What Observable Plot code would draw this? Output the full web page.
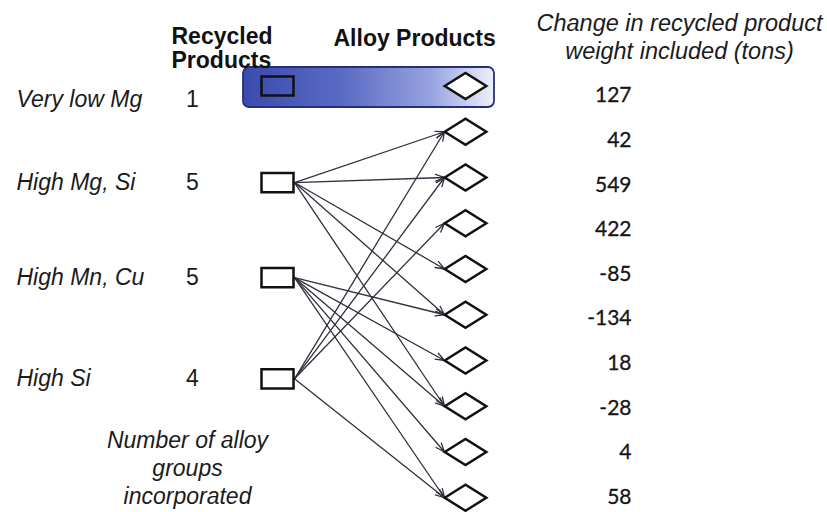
<!DOCTYPE html>
<html><head><meta charset="utf-8">
<script src="https://cdn.jsdelivr.net/npm/d3@7"></script>
<script src="https://cdn.jsdelivr.net/npm/@observablehq/plot@0.6"></script>
<style>html,body{margin:0;padding:0;background:#fff;} #chart{width:827px;height:512px;}</style>
</head><body><div id="chart"></div>
<script>
// ---- data ----
const recycledGroups = ["Very low Mg", "High Mg, Si", "High Mn, Cu", "High Si"];
const alloyGroupCounts = [1, 5, 5, 4];
const alloyProducts = ["A1", "A2", "A3", "A4", "A5", "A6", "A7", "A8", "A9", "A10"];
const weightChange = ["127", "42", "549", "422", "-85", "-134", "18", "-28", "4", "58"];
const groupLinks = [[0], [1, 2, 4, 5, 7], [5, 6, 7, 8, 9], [1, 2, 3, 9]];
const highlightedGroup = 0;
const headerRecycled = "Recycled\nProducts";
const headerAlloy = "Alloy Products";
const headerChange = "Change in recycled product\nweight included (tons)";
const footerNote = "Number of alloy\ngroups\nincorporated";

// ---- layout ----
const W = 827, H = 512;
const FONT = "'Liberation Sans', Arial, sans-serif";
const groupSlot = [0.29, 2.11, 4.19, 6.4];   // vertical slot of each recycled group (in alloy-row units)
const colLabel = 16, colCount = 192, colSquare = 277, colAlloy = 465, colChange = 631;
const arrowStart = 294, arrowEnd = 444;
const barX1 = 243, barX2 = 494;
const valueRowOffset = 0.21, valueRowStep = 0.975; // value column is spaced slightly tighter than diamonds

const groups = recycledGroups.map((name, i) => ({
  name, count: String(alloyGroupCounts[i]), slot: groupSlot[i], links: groupLinks[i],
  inBar: i === highlightedGroup,
  sq: i === highlightedGroup ? groupLinks[i][0] : groupSlot[i]
}));
const alloys = alloyProducts.map((a, i) => ({name: a, row: i, change: weightChange[i]}));
const linkData = groups.filter(g => !g.inBar).flatMap(g => g.links.map(r => ({from: g.slot, to: r})));
const barData = [{row: groupLinks[highlightedGroup][0]}];

const diamondSym = {draw(ctx, size) {
  const r = Math.sqrt(size / Math.PI), w = r * 1.6;
  ctx.moveTo(-w, 0); ctx.lineTo(0, -r); ctx.lineTo(w, 0); ctx.lineTo(0, r); ctx.closePath();
}};
const rectSym = {draw(ctx, size) {
  const r = Math.sqrt(size / Math.PI), h = r * 0.6;
  ctx.rect(-r, -h, 2 * r, 2 * h);
}};

const svg = Plot.plot({
  width: W, height: H,
  marginTop: 0, marginRight: 0, marginBottom: 0, marginLeft: 0,
  x: {type: "linear", domain: [0, W], range: [0, W], axis: null},
  y: {type: "linear", domain: [0, 9], range: [85.5, 497.25], axis: null},
  style: {background: "white", fontFamily: FONT, overflow: "visible"},
  marks: [
    Plot.rect(barData, {
      x1: () => barX1, x2: () => barX2,
      y1: d => d.row - 0.404, y2: d => d.row + 0.47,
      fill: "url(#barGrad)", stroke: "#26307a", strokeWidth: 1.8, rx: 6
    }),
    Plot.arrow(linkData, {
      x1: () => arrowStart, y1: "from", x2: () => arrowEnd, y2: "to",
      stroke: "#30303f", strokeWidth: 1.3, headLength: 11, headAngle: 42, insetEnd: 0, insetStart: 0
    }),
    Plot.dot(groups, {
      x: () => colSquare, y: "sq", symbol: rectSym, r: 16,
      fill: d => d.inBar ? "none" : "white", stroke: "#111", strokeWidth: 2.5
    }),
    Plot.dot(alloys, {
      x: () => colAlloy, y: "row", symbol: diamondSym, r: 13,
      fill: "white", stroke: "#111", strokeWidth: 2.5
    }),
    Plot.text(groups, {
      x: () => colLabel, y: "slot", text: "name", textAnchor: "start",
      fontStyle: "italic", fontSize: 23, fontFamily: FONT, fill: "#1b1b1b"
    }),
    Plot.text(groups, {
      x: () => colCount, y: "slot", text: "count", textAnchor: "middle",
      fontSize: 23, fontFamily: FONT, fill: "#1b1b1b"
    }),
    Plot.text(alloys, {
      x: () => colChange, y: d => valueRowOffset + d.row * valueRowStep, text: "change", textAnchor: "end",
      fontSize: 21, fontFamily: "Lato, 'Open Sans', sans-serif", fill: "#151515", stroke: "#151515", strokeWidth: 0.3
    }),
    Plot.text([headerRecycled], {
      frameAnchor: "top-left", dx: 171, dy: 67, lineAnchor: "bottom", lineHeight: 1.04,
      textAnchor: "start", fontWeight: "bold", fontSize: 23, fontFamily: FONT, fill: "#111"
    }),
    Plot.text([headerAlloy], {
      frameAnchor: "top-left", dx: 333, dy: 45, lineAnchor: "bottom",
      textAnchor: "start", fontWeight: "bold", fontSize: 23, fontFamily: FONT, fill: "#111"
    }),
    Plot.text([headerChange], {
      frameAnchor: "top-left", dx: 679, dy: 58, lineAnchor: "bottom", lineHeight: 1.17,
      textAnchor: "middle", fontStyle: "italic", fontSize: 23.5, fontFamily: FONT, fill: "#1b1b1b"
    }),
    Plot.text([footerNote], {
      frameAnchor: "top-left", dx: 187, dy: 503, lineAnchor: "bottom", lineHeight: 1.2,
      textAnchor: "middle", fontStyle: "italic", fontSize: 23, fontFamily: FONT, fill: "#1b1b1b"
    })
  ]
});

const defs = d3.select(svg).insert("defs", ":first-child");
const grad = defs.append("linearGradient").attr("id", "barGrad")
  .attr("x1", "0").attr("x2", "1").attr("y1", "0").attr("y2", "0");
[[0, "#3a4aae"], [0.4, "#5b6bc4"], [0.75, "#97a3e0"], [1, "#eef0fb"]]
  .forEach(([o, c]) => grad.append("stop").attr("offset", o).attr("stop-color", c));
d3.select(svg).selectAll('g[aria-label="rect"] rect').attr("fill", "url(#barGrad)");

document.getElementById("chart").appendChild(svg);
</script>
</body></html>
